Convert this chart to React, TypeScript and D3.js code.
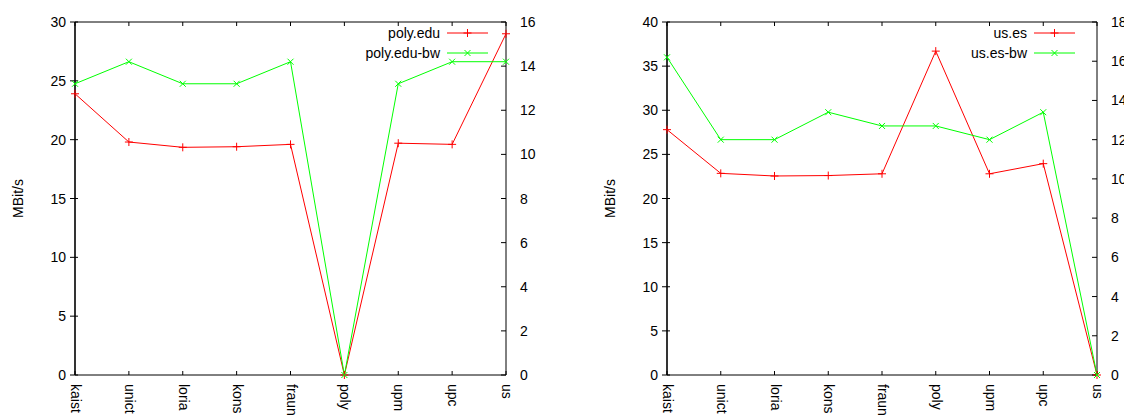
import React from "react";
import * as d3 from "d3";

// Hosts along the x axis (shared by both panels)
const hosts = ["kaist", "unict", "loria", "kons", "fraun", "poly", "upm", "upc", "us"];

// Left panel: transfer rate (MBit/s, left axis) and bandwidth (right axis)
const polyEdu = [23.9, 19.8, 19.35, 19.4, 19.6, 0, 19.7, 19.6, 29.0];
const polyEduBw = [13.2, 14.2, 13.2, 13.2, 14.2, 0, 13.2, 14.2, 14.2];

// Right panel
const usEs = [27.8, 22.85, 22.55, 22.6, 22.8, 36.7, 22.8, 23.95, 0];
const usEsBw = [16.2, 12.0, 12.0, 13.4, 12.7, 12.7, 12.0, 13.4, 0];

const yTicksLeft = [0, 5, 10, 15, 20, 25, 30];
const y2TicksLeft = [0, 2, 4, 6, 8, 10, 12, 14, 16];
const yTicksRight = [0, 5, 10, 15, 20, 25, 30, 35, 40];
const y2TicksRight = [0, 2, 4, 6, 8, 10, 12, 14, 16, 18];

const FONT = "'Liberation Sans', Arial, Helvetica, sans-serif";
const RED = "#ff0000";
const GREEN = "#00ff00";

type PanelProps = {
  x0: number;
  x1: number;
  yTicks: number[];
  y2Ticks: number[];
  rate: number[];
  bw: number[];
  rateName: string;
  bwName: string;
  yLabelX: number;
  legendTextX: number;
};

const TOP = 22;
const BOTTOM = 375;

function Plus({ x, y, color }: { x: number; y: number; color: string }) {
  const s = 4;
  return (
    <path d={`M${x - s},${y}H${x + s}M${x},${y - s}V${y + s}`} stroke={color} strokeWidth={1} fill="none" />
  );
}

function Cross({ x, y, color }: { x: number; y: number; color: string }) {
  const s = 3;
  return (
    <path
      d={`M${x - s},${y - s}L${x + s},${y + s}M${x - s},${y + s}L${x + s},${y - s}`}
      stroke={color}
      strokeWidth={1}
      fill="none"
    />
  );
}

function Panel(p: PanelProps) {
  const x = d3.scalePoint<string>().domain(hosts).range([p.x0, p.x1]);
  const y = d3
    .scaleLinear()
    .domain([0, p.yTicks[p.yTicks.length - 1]])
    .range([BOTTOM, TOP]);
  const y2 = d3
    .scaleLinear()
    .domain([0, p.y2Ticks[p.y2Ticks.length - 1]])
    .range([BOTTOM, TOP]);

  const rateLine = d3
    .line<number>()
    .x((_, i) => x(hosts[i]) as number)
    .y((d) => y(d));
  const bwLine = d3
    .line<number>()
    .x((_, i) => x(hosts[i]) as number)
    .y((d) => y2(d));

  const lx0 = p.legendTextX + 7;
  const lx1 = lx0 + 41;
  const lmid = (lx0 + lx1) / 2;

  return (
    <g fontFamily={FONT} fontSize={14} fill="#000">
      {/* frame */}
      <path
        d={`M${p.x0},${TOP}H${p.x1}V${BOTTOM}H${p.x0}`}
        stroke="#000"
        strokeWidth={1}
        fill="none"
      />
      <line x1={p.x0} y1={TOP} x2={p.x0} y2={BOTTOM} stroke="#000" strokeWidth={1.6} />

      {/* left y axis */}
      {p.yTicks.map((t) => (
        <g key={"y" + t}>
          <line x1={p.x0 - 5} x2={p.x0 + 3} y1={y(t)} y2={y(t)} stroke="#000" />
          <text x={p.x0 - 9} y={y(t)} textAnchor="end" dominantBaseline="central">
            {t}
          </text>
        </g>
      ))}

      {/* right y axis */}
      {p.y2Ticks.map((t) => (
        <g key={"y2" + t}>
          <line x1={p.x1 - 5} x2={p.x1} y1={y2(t)} y2={y2(t)} stroke="#000" />
          <text x={p.x1 + 14} y={y2(t)} textAnchor="start" dominantBaseline="central">
            {t}
          </text>
        </g>
      ))}

      {/* x axis ticks (bottom and mirrored on top) and labels */}
      {hosts.map((h) => {
        const xx = x(h) as number;
        return (
          <g key={"x" + h}>
            <line x1={xx} x2={xx} y1={BOTTOM} y2={BOTTOM - 4} stroke="#000" />
            <line x1={xx} x2={xx} y1={TOP} y2={TOP + 4} stroke="#000" />
            <text
              transform={`translate(${xx + 1},${BOTTOM + 9}) rotate(90)`}
              textAnchor="start"
              dominantBaseline="central"
            >
              {h}
            </text>
          </g>
        );
      })}

      <text
        transform={`translate(${p.yLabelX},${(TOP + BOTTOM) / 2}) rotate(-90)`}
        textAnchor="middle"
        dominantBaseline="central"
      >
        MBit/s
      </text>

      {/* series */}
      <path d={rateLine(p.rate) ?? ""} stroke={RED} strokeWidth={1} fill="none" />
      <path d={bwLine(p.bw) ?? ""} stroke={GREEN} strokeWidth={1} fill="none" />
      {p.rate.map((v, i) => (
        <Plus key={"r" + i} x={x(hosts[i]) as number} y={y(v)} color={RED} />
      ))}
      {p.bw.map((v, i) => (
        <Cross key={"b" + i} x={x(hosts[i]) as number} y={y2(v)} color={GREEN} />
      ))}

      {/* legend */}
      <text x={p.legendTextX} y={33} textAnchor="end" dominantBaseline="central">
        {p.rateName}
      </text>
      <line x1={lx0} x2={lx1} y1={33} y2={33} stroke={RED} />
      <Plus x={lmid} y={33} color={RED} />
      <text x={p.legendTextX} y={53} textAnchor="end" dominantBaseline="central">
        {p.bwName}
      </text>
      <line x1={lx0} x2={lx1} y1={53} y2={53} stroke={GREEN} />
      <Cross x={lmid} y={53} color={GREEN} />
    </g>
  );
}

export default function App() {
  return (
    <svg
      width={1124}
      height={416}
      style={{ position: "absolute", left: 0, top: 0, background: "#fff" }}
    >
      <rect width={1124} height={416} fill="#fff" />
      <Panel
        x0={75}
        x1={506}
        yTicks={yTicksLeft}
        y2Ticks={y2TicksLeft}
        rate={polyEdu}
        bw={polyEduBw}
        rateName="poly.edu"
        bwName="poly.edu-bw"
        yLabelX={18}
        legendTextX={440}
      />
      <Panel
        x0={667}
        x1={1097}
        yTicks={yTicksRight}
        y2Ticks={y2TicksRight}
        rate={usEs}
        bw={usEsBw}
        rateName="us.es"
        bwName="us.es-bw"
        yLabelX={610}
        legendTextX={1027}
      />
    </svg>
  );
}
